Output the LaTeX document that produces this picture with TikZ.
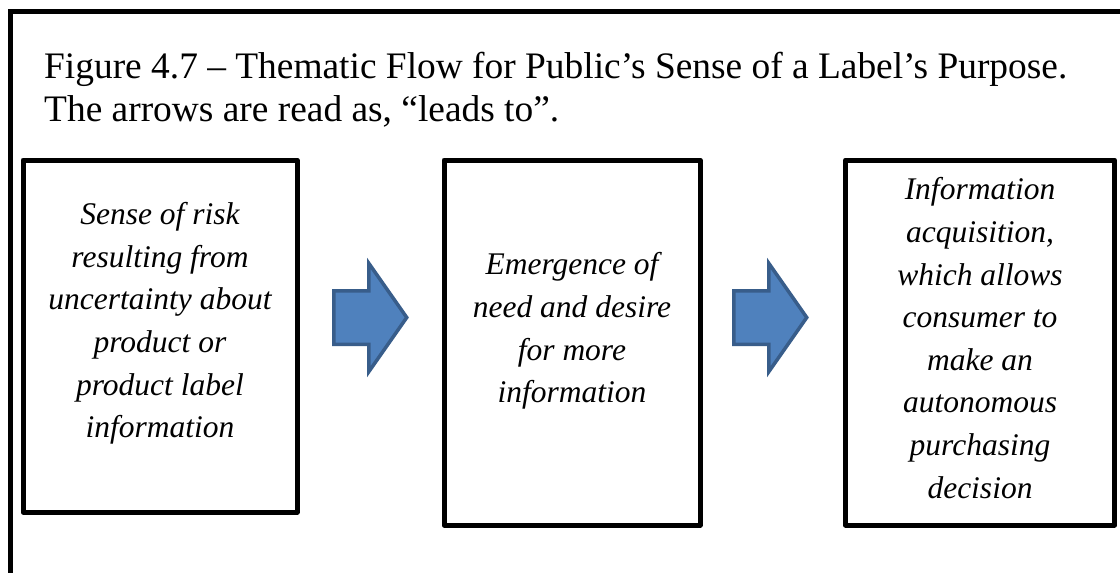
\documentclass[tikz,border=0pt]{standalone}
\usepackage{fontspec}
\setmainfont{Liberation Serif}
\usetikzlibrary{shapes.arrows}
\definecolor{flowblue}{HTML}{4F81BD}
\definecolor{flowblueline}{HTML}{385D8A}

\begin{document}
\begin{tikzpicture}[x=1pt, y=-1pt,
      every node/.style={inner sep=0pt},
      frame/.style={draw, line width=5pt},
      themebox/.style={draw, line width=5pt, line join=round, rectangle},
      themetext/.style={align=center, font=\fontsize{31.5}{42.6}\selectfont\itshape},
      leadsto/.style={single arrow, draw=flowblueline, fill=flowblue, line width=3.5pt,
        inner xsep=0pt, inner ysep=25pt, minimum height=73pt,
        single arrow head extend=27.5pt, single arrow tip angle=110, anchor=tail},]
  %.
  \useasboundingbox (0,0) rectangle (1120,573);
  \clip (0,0) rectangle (1120,573);
  \draw[frame] (10.5,11.5) rectangle (1135,595);
  \node[anchor=north west, align=left, font=\fontsize{37.4}{43}\selectfont] (title) at (44,52)
     {Figure 4.7 – Thematic Flow for Public’s Sense of a Label’s Purpose.\\
      The arrows are read as, “leads to”.};
  %.
  \node[themebox, minimum width=274pt, minimum height=352pt] (risk) at (160,336) {};
  \node[themebox, minimum width=256pt, minimum height=365pt] (need) at (572,342.5) {};
  \node[themebox, minimum width=269pt, minimum height=365pt] (info) at (980,342.5) {};
  \node[themetext] (risktext) at (160,323.5)
     {Sense of risk\\ resulting from\\ uncertainty about\\ product or\\ product label\\ information};
  \node[themetext] (needtext) at (572,331)
     {Emergence of\\ need and desire\\ for more\\ information};
  \node[themetext] (infotext) at (980,338)
     {Information\\ acquisition,\\ which allows\\ consumer to\\ make an\\ autonomous\\ purchasing\\ decision};
  %.
  \node[leadsto] (lead1) at (332,317.5) {};
  \node[leadsto] (lead2) at (732,317.5) {};
  %.
\end{tikzpicture}
\end{document}
